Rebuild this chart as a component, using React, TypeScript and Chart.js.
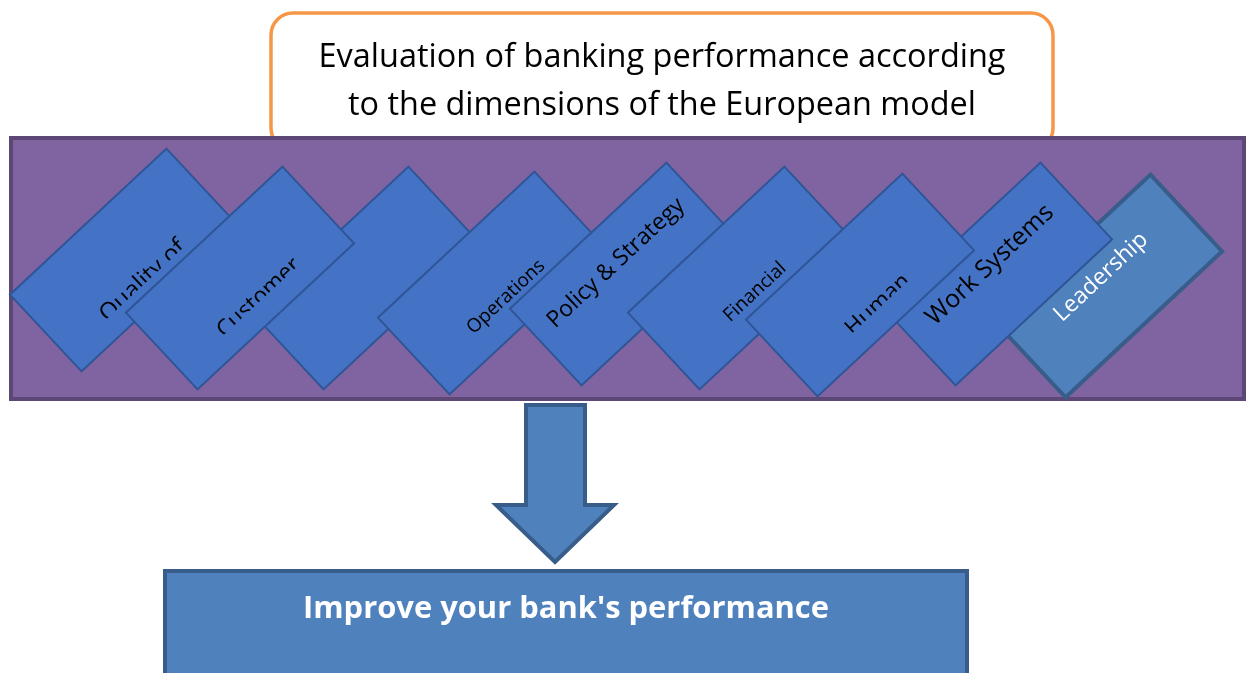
import { useEffect, useRef } from "react";
import { Chart, registerables } from "chart.js";

Chart.register(...registerables);

// ---- content ----
const titleLines = ["Evaluation of banking performance according", "to the dimensions of the European model"];
const resultText = "Improve your bank's performance";
const dimensionLabels = ["Quality of", "Customer", "", "Operations", "Policy & Strategy", "Financial", "Human", "Work Systems", "Leadership"];

// ---- layout (diagram coordinates, in the 1248 x 673 frame) ----
const boxCenterX = [124, 240, 366, 492, 624, 742, 860, 998, 1108];
const boxCenterY = [260, 278, 278, 283, 274, 278, 285, 274, 286];
const labelX = [143, 259, 0, 506, 616, 755, 878, 990, 1101];
const labelY = [281, 298, 0, 297, 263, 292, 305, 265, 277];
const labelSize = [24, 23, 0, 19, 23, 19, 23, 25, 23];
const labelWidth = [150, 135, 0, 120, 196, 100, 105, 184, 150];
const labelClipped = [true, true, false, false, false, false, true, false, false];
const drawOrder = [0, 2, 1, 3, 4, 5, 8, 7, 6];

const FONT = "'Open Sans', 'Noto Sans', sans-serif";
const ANGLE = (-43 * Math.PI) / 180;
const BOX_L = 214;
const BOX_S = 105;

function roundRect(ctx: CanvasRenderingContext2D, x: number, y: number, w: number, h: number, r: number) {
  ctx.beginPath();
  ctx.moveTo(x + r, y);
  ctx.lineTo(x + w - r, y);
  ctx.arcTo(x + w, y, x + w, y + r, r);
  ctx.lineTo(x + w, y + h - r);
  ctx.arcTo(x + w, y + h, x + w - r, y + h, r);
  ctx.lineTo(x + r, y + h);
  ctx.arcTo(x, y + h, x, y + h - r, r);
  ctx.lineTo(x, y + r);
  ctx.arcTo(x, y, x + r, y, r);
  ctx.closePath();
}

const diagramPlugin = {
  id: "diagram",
  beforeDatasetsDraw(chart: any) {
    const ctx: CanvasRenderingContext2D = chart.ctx;
    const sx = chart.scales.x;
    const sy = chart.scales.y;
    const X = (v: number) => sx.getPixelForValue(v);
    const Y = (v: number) => sy.getPixelForValue(v);

    ctx.save();
    // background
    ctx.fillStyle = "#ffffff";
    ctx.fillRect(0, 0, chart.width, chart.height);

    // title box
    roundRect(ctx, X(271), Y(13), X(1053) - X(271), Y(150) - Y(13), 22);
    ctx.fillStyle = "#ffffff";
    ctx.fill();
    ctx.lineWidth = 3.5;
    ctx.strokeStyle = "#F79646";
    ctx.stroke();
    ctx.fillStyle = "#000000";
    ctx.textAlign = "center";
    ctx.textBaseline = "alphabetic";
    ctx.font = `33px ${FONT}`;
    ctx.fillText(titleLines[0], X(662), Y(67), 687);
    ctx.fillText(titleLines[1], X(662), Y(115), 628);

    // purple band
    ctx.fillStyle = "#8064A2";
    ctx.fillRect(X(11), Y(138), X(1244) - X(11), Y(399) - Y(138));
    ctx.lineWidth = 4;
    ctx.strokeStyle = "#5C4776";
    ctx.strokeRect(X(11), Y(138), X(1244) - X(11), Y(399) - Y(138));

    // rotated dimension boxes
    for (const i of drawOrder) {
      const cx = X(boxCenterX[i]);
      const cy = Y(boxCenterY[i]);
      const lead = i === dimensionLabels.length - 1;
      ctx.save();
      ctx.translate(cx, cy);
      ctx.rotate(ANGLE);
      ctx.beginPath();
      ctx.rect(-BOX_L / 2, -BOX_S / 2, BOX_L, BOX_S);
      ctx.fillStyle = lead ? "#4F81BD" : "#4472C4";
      ctx.fill();
      ctx.lineWidth = lead ? 4 : 2;
      ctx.strokeStyle = lead ? "#385D8A" : "#2F5597";
      ctx.stroke();
      ctx.restore();
    }

    // labels
    dimensionLabels.forEach((label, i) => {
      if (!label) return;
      const lead = i === dimensionLabels.length - 1;
      ctx.save();
      ctx.translate(X(labelX[i]), Y(labelY[i]));
      ctx.rotate(ANGLE);
      if (labelClipped[i]) {
        ctx.beginPath();
        ctx.rect(-200, -60, 400, 63);
        ctx.clip();
      }
      ctx.font = `${labelSize[i]}px ${FONT}`;
      ctx.textAlign = "center";
      ctx.textBaseline = "middle";
      ctx.fillStyle = lead ? "#ffffff" : "#000000";
      ctx.fillText(label, 0, 0, labelWidth[i]);
      ctx.restore();
    });

    // arrow
    ctx.beginPath();
    ctx.moveTo(X(526), Y(405));
    ctx.lineTo(X(585), Y(405));
    ctx.lineTo(X(585), Y(505));
    ctx.lineTo(X(614), Y(505));
    ctx.lineTo(X(555), Y(562));
    ctx.lineTo(X(496), Y(505));
    ctx.lineTo(X(526), Y(505));
    ctx.closePath();
    ctx.fillStyle = "#4F81BD";
    ctx.fill();
    ctx.lineWidth = 4;
    ctx.strokeStyle = "#385D8A";
    ctx.lineJoin = "miter";
    ctx.stroke();

    // result box
    ctx.fillStyle = "#4F81BD";
    ctx.fillRect(X(165), Y(571), X(967) - X(165), Y(690) - Y(571));
    ctx.lineWidth = 4;
    ctx.strokeStyle = "#385D8A";
    ctx.strokeRect(X(165), Y(571), X(967) - X(165), Y(690) - Y(571));
    ctx.fillStyle = "#ffffff";
    ctx.font = `bold 31px ${FONT}`;
    ctx.textAlign = "center";
    ctx.textBaseline = "alphabetic";
    ctx.fillText(resultText, X(566), Y(618), 526);

    ctx.restore();
  },
};

export default function App() {
  const ref = useRef<HTMLCanvasElement>(null);
  useEffect(() => {
    if (!ref.current) return;
    const chart = new Chart(ref.current, {
      type: "scatter",
      data: {
        datasets: [
          {
            data: boxCenterX.map((x, i) => ({ x, y: boxCenterY[i] })),
            pointRadius: 0,
            pointHoverRadius: 0,
          },
        ],
      },
      options: {
        animation: false,
        responsive: false,
        maintainAspectRatio: false,
        events: [],
        layout: { padding: 0 },
        plugins: { legend: { display: false }, tooltip: { enabled: false }, title: { display: false } },
        scales: {
          x: { type: "linear", min: 0, max: 1248, display: false },
          y: { type: "linear", min: 0, max: 673, reverse: true, display: false },
        },
      },
      plugins: [diagramPlugin],
    });
    return () => chart.destroy();
  }, []);
  return (
    <div style={{ position: "fixed", left: 0, top: 0, width: 1248, height: 673, background: "#fff" }}>
      <canvas ref={ref} width={1248} height={673} style={{ display: "block" }} />
    </div>
  );
}
